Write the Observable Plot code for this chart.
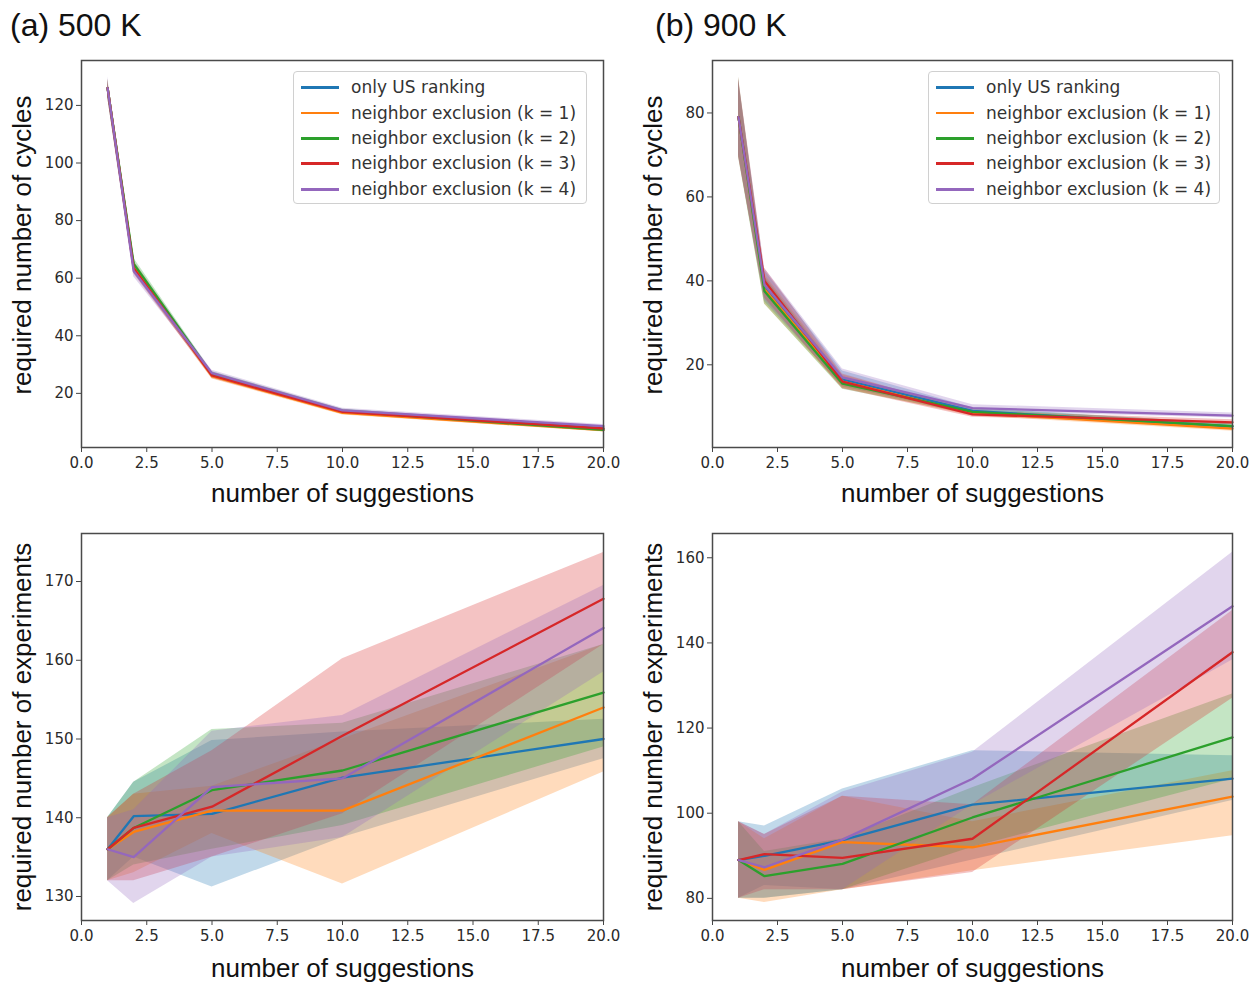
<!DOCTYPE html>
<html><head><meta charset="utf-8">
<script src="https://cdn.jsdelivr.net/npm/d3@7"></script>
<script src="https://cdn.jsdelivr.net/npm/@observablehq/plot@0.6"></script>
<style>
body{margin:0;background:#fff;}
#fig{position:relative;width:1252px;height:982px;overflow:hidden;font-family:"Liberation Sans",Arial,sans-serif;}
.title{position:absolute;font-size:32px;line-height:32px;color:#111;white-space:nowrap;}
.panel{position:absolute;}
.legend{position:absolute;box-sizing:border-box;border:1px solid #d0d0d0;border-radius:4px;background:rgba(255,255,255,0.8);font-family:"DejaVu Sans",sans-serif;font-size:17px;color:#333;}
.legend .row{position:absolute;left:0;height:20px;width:100%;}
.legend .sw{position:absolute;left:7px;top:9px;width:38px;height:2.5px;}
.legend .lab{position:absolute;left:57px;top:0;line-height:20px;white-space:nowrap;}
</style>
</head><body>
<div id="fig"></div>
<script>
// ---------- data ----------
const xs = [1, 2, 5, 10, 20];
const seriesNames = ["only US ranking", "neighbor exclusion (k = 1)", "neighbor exclusion (k = 2)", "neighbor exclusion (k = 3)", "neighbor exclusion (k = 4)"];
const seriesColors = ["#1f77b4", "#ff7f0e", "#2ca02c", "#d62728", "#9467bd"];
const xTicks = [0, 2.5, 5, 7.5, 10, 12.5, 15, 17.5, 20];

// (a) 500 K — required number of cycles
const cycles500Mean = [
  [126, 64, 26.5, 13.8, 7.8],
  [126, 64, 26, 13.2, 7.2],
  [126, 65, 26.5, 13.8, 7.3],
  [126, 63.5, 26.2, 13.6, 7.8],
  [126, 62.5, 27, 14.1, 8.6]
];
const cycles500Lo = [
  [123, 62, 25.5, 13.1, 7.2],
  [123, 62, 25, 12.5, 6.6],
  [123, 63, 25.5, 13.1, 6.7],
  [123, 61.5, 25.2, 12.9, 7.2],
  [123, 60.5, 26, 13.4, 8.0]
];
const cycles500Hi = [
  [129, 66, 27.5, 14.5, 8.4],
  [129, 66, 27, 13.9, 7.8],
  [129, 67, 27.5, 14.5, 7.9],
  [129, 65.5, 27.2, 14.3, 8.4],
  [130, 64.5, 28, 14.8, 9.2]
];
const cycles500YTicks = [20, 40, 60, 80, 100, 120];
const cycles500YDomain = [1.2, 135.6];

// (b) 900 K — required number of cycles
const cycles900Mean = [
  [79, 38.5, 16.5, 9.0, 5.3],
  [79, 38, 16, 8.5, 4.8],
  [79, 37.5, 15.5, 8.8, 5.4],
  [79, 40, 16, 8.2, 6.3],
  [79, 39, 17, 9.7, 7.9]
];
const cycles900Lo = [
  [70, 35, 14.8, 8.2, 4.7],
  [70, 34.5, 14.4, 7.8, 4.2],
  [69.5, 34.5, 14.2, 8.1, 4.8],
  [69.5, 36, 14.3, 7.5, 5.7],
  [70, 35.5, 15.2, 8.9, 7.3]
];
const cycles900Hi = [
  [88, 42.5, 18.5, 9.8, 5.9],
  [88, 41.5, 17.6, 9.2, 5.4],
  [88.5, 41, 17, 9.5, 6.0],
  [88.5, 43, 17.8, 8.9, 6.9],
  [88, 43, 19, 10.5, 8.5]
];
const cycles900YTicks = [20, 40, 60, 80];
const cycles900YDomain = [0.3, 92.5];

// (a) 500 K — required number of experiments
const exp500Mean = [
  [136, 140.2, 140.5, 145.1, 150],
  [136, 138.2, 140.9, 140.9, 154],
  [136, 138.7, 143.5, 146, 155.9],
  [136, 138.7, 141.4, 150.4, 167.8],
  [136, 135, 143.9, 145, 164.1]
];
const exp500Lo = [
  [132, 135, 131.2, 137.5, 147.5],
  [132, 133, 138, 131.6, 145.8],
  [132, 134, 136, 139, 149],
  [132, 132, 135, 140.5, 162],
  [132, 129.1, 135, 137.5, 158.5]
];
const exp500Hi = [
  [140, 144.5, 149.8, 150.9, 152.5],
  [140, 143, 144, 150, 162],
  [140, 144.5, 151.2, 152, 162],
  [140, 143, 148.5, 160.2, 173.7],
  [140, 141, 151, 153, 169.5]
];
const exp500YTicks = [130, 140, 150, 160, 170];
const exp500YDomain = [126.95, 176.1];

// (b) 900 K — required number of experiments
const exp900Mean = [
  [89, 90, 93.7, 102, 108.1],
  [89, 86.7, 93.2, 92, 103.9],
  [89, 85.2, 88.1, 99, 117.8],
  [89, 90.4, 89.5, 94, 137.8],
  [89, 87.3, 93.8, 108.1, 148.6]
];
const exp900Lo = [
  [80, 83, 82, 89, 103],
  [80, 79, 82, 86.5, 94.7],
  [80, 80, 82, 92, 108],
  [80, 82, 82, 86.1, 127],
  [80, 80, 82, 102, 136]
];
const exp900Hi = [
  [98, 97, 105.7, 114.7, 113.5],
  [98, 94, 104, 98, 110],
  [98, 91, 94, 106, 128],
  [98, 95, 104, 102, 147.6],
  [98, 95, 105, 114.3, 161.3]
];
const exp900YTicks = [80, 100, 120, 140, 160];
const exp900YDomain = [74.8, 165.7];

const xLabel = "number of suggestions";
const yLabelCycles = "required number of cycles";
const yLabelExp = "required number of experiments";
const titles = ["(a) 500 K", "(b) 900 K"];

// ---------- drawing ----------
const fig = document.getElementById("fig");

function buildRows(mean, lo, hi) {
  const rows = [];
  seriesNames.forEach((s, si) => {
    xs.forEach((x, i) => rows.push({series: s, x, y: mean[si][i], lo: lo[si][i], hi: hi[si][i]}));
  });
  return rows;
}

function panel({mean, lo, hi, yTicks, yDomain, yLabel, left, top, width, height, margins, yLabelDy, xLabelDy}) {
  const rows = buildRows(mean, lo, hi);
  const chart = Plot.plot({
    width, height,
    marginLeft: margins[0], marginRight: margins[1], marginTop: margins[2], marginBottom: margins[3],
    style: {fontFamily: "DejaVu Sans, sans-serif", fontSize: "15px", color: "#2a2a2a", background: "transparent", overflow: "visible"},
    x: {domain: [0, 20]},
    y: {domain: yDomain},
    color: {domain: seriesNames, range: seriesColors},
    marks: [
      Plot.areaY(rows, {x: "x", y1: "lo", y2: "hi", z: "series", fill: "series", fillOpacity: 0.28}),
      Plot.lineY(rows, {x: "x", y: "y", z: "series", stroke: "series", strokeWidth: 2.3}),
      Plot.axisX({ticks: xTicks, tickFormat: d3.format(".1f"), tickSize: 5, tickPadding: 5, label: null, stroke: "#444", fill: "#2a2a2a"}),
      Plot.axisY({ticks: yTicks, tickFormat: d3.format("d"), tickSize: 5, tickPadding: 3, label: null, stroke: "#444", fill: "#2a2a2a"}),
      Plot.frame({stroke: "#4a4a4a", strokeWidth: 1.5}),
      Plot.text([xLabel], {text: d => d, frameAnchor: "bottom", dy: xLabelDy, lineAnchor: "middle", fontSize: 26, fontFamily: "Liberation Sans, Arial, sans-serif", fill: "#111"}),
      Plot.text([yLabel], {text: d => d, frameAnchor: "left", dx: -69, dy: yLabelDy, rotate: -90, lineAnchor: "top", textAnchor: "middle", fontSize: 26, fontFamily: "Liberation Sans, Arial, sans-serif", fill: "#111"})
    ]
  });
  const holder = document.createElement("div");
  holder.className = "panel";
  holder.style.left = left + "px";
  holder.style.top = top + "px";
  holder.appendChild(chart);
  fig.appendChild(holder);
}

function legend(left, top, width) {
  const box = document.createElement("div");
  box.className = "legend";
  box.style.left = left + "px";
  box.style.top = top + "px";
  box.style.width = width + "px";
  box.style.height = "133px";
  const centers = [15, 40.5, 66, 91, 117];
  seriesNames.forEach((s, i) => {
    const row = document.createElement("div");
    row.className = "row";
    row.style.top = (centers[i] - 10) + "px";
    const sw = document.createElement("span");
    sw.className = "sw";
    sw.style.background = seriesColors[i];
    const lab = document.createElement("span");
    lab.className = "lab";
    lab.textContent = s;
    row.appendChild(sw);
    row.appendChild(lab);
    box.appendChild(row);
  });
  fig.appendChild(box);
}

panel({mean: cycles500Mean, lo: cycles500Lo, hi: cycles500Hi, yTicks: cycles500YTicks, yDomain: cycles500YDomain, yLabel: yLabelCycles,
  left: 0, top: 0, width: 626, height: 510, margins: [81, 23, 60, 63], yLabelDy: -9, xLabelDy: 46});
panel({mean: cycles900Mean, lo: cycles900Lo, hi: cycles900Hi, yTicks: cycles900YTicks, yDomain: cycles900YDomain, yLabel: yLabelCycles,
  left: 626, top: 0, width: 626, height: 510, margins: [86, 20, 60, 63], yLabelDy: -9, xLabelDy: 46});
panel({mean: exp500Mean, lo: exp500Lo, hi: exp500Hi, yTicks: exp500YTicks, yDomain: exp500YDomain, yLabel: yLabelExp,
  left: 0, top: 510, width: 626, height: 472, margins: [81, 23, 23, 62], yLabelDy: 0, xLabelDy: 48});
panel({mean: exp900Mean, lo: exp900Lo, hi: exp900Hi, yTicks: exp900YTicks, yDomain: exp900YDomain, yLabel: yLabelExp,
  left: 626, top: 510, width: 626, height: 472, margins: [86, 20, 23, 62], yLabelDy: 0, xLabelDy: 48});

legend(293, 71, 294);
legend(928, 71, 292);

titles.forEach((t, i) => {
  const d = document.createElement("div");
  d.className = "title";
  d.textContent = t;
  d.style.left = (i === 0 ? 10 : 655) + "px";
  d.style.top = "9px";
  fig.appendChild(d);
});
</script>
</body></html>
